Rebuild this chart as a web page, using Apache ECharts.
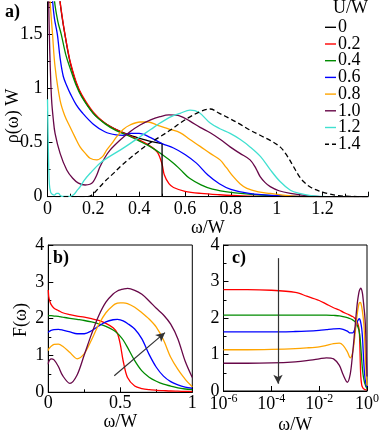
<!DOCTYPE html>
<html>
<head>
<meta charset="utf-8">
<script src="https://cdn.jsdelivr.net/npm/echarts@6/dist/echarts.min.js"></script>
<style>
  html, body { margin: 0; padding: 0; background: #fff; }
  #main { width: 382px; height: 435px; }
</style>
</head>
<body>
<div id="main"></div>
<script>
// U/W values and colours (xmgrace palette)
const uLabels = ["0", "0.2", "0.4", "0.6", "0.8", "1.0", "1.2", "1.4"];
const uColors = ["#000000", "#ff0000", "#008b00", "#0000ff", "#ffa500", "#670748", "#40e0d0", "#000000"];

// panel a) : rho(w) W vs w/W, pairs [w/W, rho]
const rhoU00 = [[0.045,2.1],[0.054,1.82],[0.065,1.64],[0.076,1.5],[0.09,1.33],[0.1,1.23],[0.125,1.05],[0.15,0.93],[0.2,0.77],[0.25,0.68],[0.3,0.62],[0.35,0.575],[0.4,0.54],[0.45,0.51],[0.5,0.49]];
const rhoU00Edge = [[0.5,0.49],[0.5,0],[1.4,0]];
const rhoU02 = [[0.045,2.1],[0.054,1.82],[0.065,1.65],[0.076,1.5],[0.09,1.34],[0.1,1.24],[0.125,1.06],[0.15,0.94],[0.2,0.78],[0.25,0.68],[0.3,0.62],[0.35,0.57],[0.4,0.525],[0.45,0.465],[0.48,0.41],[0.5,0.3],[0.51,0.2],[0.53,0.12],[0.55,0.085],[0.6,0.05],[0.67,0.03],[0.75,0.018],[0.85,0.008],[1.0,0.003],[1.2,0],[1.4,0]];
const rhoU04 = [[0.025,2.1],[0.03,1.82],[0.045,1.62],[0.06,1.5],[0.08,1.31],[0.1,1.18],[0.125,1.03],[0.15,0.92],[0.2,0.77],[0.25,0.675],[0.3,0.61],[0.35,0.565],[0.4,0.515],[0.45,0.46],[0.5,0.39],[0.55,0.31],[0.58,0.25],[0.62,0.17],[0.67,0.11],[0.72,0.07],[0.8,0.04],[0.9,0.02],[1.0,0.008],[1.2,0],[1.4,0]];
const rhoU06 = [[0.018,2.1],[0.022,1.82],[0.03,1.65],[0.043,1.5],[0.055,1.28],[0.069,1.11],[0.085,1.02],[0.1,0.95],[0.125,0.85],[0.15,0.78],[0.2,0.67],[0.25,0.6],[0.3,0.57],[0.33,0.566],[0.36,0.585],[0.4,0.585],[0.45,0.545],[0.5,0.49],[0.55,0.45],[0.6,0.39],[0.65,0.31],[0.7,0.2],[0.75,0.12],[0.8,0.068],[0.88,0.03],[1.0,0.01],[1.2,0],[1.4,0]];
const rhoU08 = [[0.008,2.1],[0.011,1.82],[0.022,1.5],[0.033,1.2],[0.055,0.89],[0.075,0.75],[0.098,0.646],[0.12,0.55],[0.142,0.46],[0.165,0.4],[0.186,0.355],[0.215,0.34],[0.24,0.37],[0.258,0.43],[0.28,0.49],[0.302,0.554],[0.33,0.62],[0.36,0.662],[0.404,0.69],[0.44,0.69],[0.477,0.662],[0.53,0.625],[0.58,0.59],[0.62,0.53],[0.666,0.465],[0.71,0.4],[0.753,0.34],[0.78,0.27],[0.811,0.185],[0.84,0.12],[0.87,0.077],[0.92,0.045],[0.972,0.03],[1.05,0.01],[1.15,0],[1.4,0]];
const rhoU10 = [[0.003,2.1],[0.005,1.82],[0.008,1.5],[0.012,1.2],[0.018,0.89],[0.025,0.72],[0.033,0.585],[0.055,0.4],[0.084,0.246],[0.11,0.17],[0.135,0.125],[0.164,0.108],[0.185,0.115],[0.2,0.14],[0.215,0.2],[0.229,0.277],[0.25,0.36],[0.273,0.43],[0.317,0.523],[0.36,0.6],[0.404,0.662],[0.45,0.71],[0.491,0.739],[0.53,0.755],[0.579,0.745],[0.62,0.7],[0.666,0.64],[0.71,0.59],[0.753,0.53],[0.797,0.46],[0.84,0.4],[0.884,0.34],[0.91,0.26],[0.928,0.185],[0.95,0.13],[0.972,0.093],[1.01,0.055],[1.06,0.03],[1.12,0.012],[1.2,0],[1.4,0]];
const rhoU12 = [[0,0.9],[0.004,0.4],[0.008,0.12],[0.014,0.04],[0.022,0.02],[0.03,0.015],[0.04,0.03],[0.048,0.03],[0.056,0.01],[0.065,0.003],[0.1,0.003],[0.115,0.02],[0.13,0.06],[0.142,0.09],[0.16,0.15],[0.186,0.216],[0.229,0.31],[0.27,0.37],[0.317,0.43],[0.36,0.49],[0.404,0.554],[0.45,0.62],[0.491,0.68],[0.54,0.74],[0.579,0.77],[0.622,0.8],[0.66,0.78],[0.71,0.68],[0.75,0.63],[0.797,0.585],[0.84,0.53],[0.884,0.46],[0.93,0.37],[0.972,0.25],[1.015,0.14],[1.06,0.06],[1.1,0.03],[1.15,0.01],[1.22,0],[1.4,0]];
const rhoU14 = [[0,0],[0.17,0],[0.19,0.01],[0.215,0.06],[0.25,0.14],[0.29,0.22],[0.317,0.277],[0.36,0.355],[0.404,0.43],[0.45,0.5],[0.491,0.554],[0.54,0.62],[0.579,0.68],[0.62,0.735],[0.666,0.785],[0.71,0.81],[0.75,0.77],[0.797,0.72],[0.84,0.67],[0.884,0.615],[0.93,0.565],[0.972,0.52],[1.015,0.46],[1.045,0.38],[1.073,0.28],[1.095,0.2],[1.117,0.14],[1.15,0.085],[1.19,0.05],[1.23,0.025],[1.27,0.01],[1.32,0.003],[1.4,0]];

// panels b) and c) : F(w) for U/W = 0.2 .. 1.0 on the same w/W grid
const omegaF = [1e-6, 1e-5, 1e-4, 1e-3, 0.003, 0.01, 0.02, 0.04, 0.07, 0.1, 0.15, 0.2, 0.25, 0.3, 0.35, 0.4, 0.45, 0.48, 0.5, 0.52, 0.55, 0.6, 0.65, 0.7, 0.75, 0.8, 0.85, 0.9, 0.95, 1.0];
const fU02 = [2.78, 2.78, 2.76, 2.7, 2.6, 2.48, 2.38, 2.28, 2.22, 2.16, 2.11, 2.07, 2.04, 2.0, 1.95, 1.87, 1.75, 1.6, 1.3, 0.85, 0.4, 0.17, 0.1, 0.07, 0.055, 0.045, 0.035, 0.03, 0.025, 0.02];
const fU04 = [2.08, 2.08, 2.08, 2.08, 2.08, 2.08, 2.08, 2.07, 2.06, 2.04, 2.01, 1.98, 1.95, 1.91, 1.86, 1.79, 1.69, 1.6, 1.52, 1.42, 1.22, 0.86, 0.58, 0.41, 0.3, 0.22, 0.17, 0.12, 0.09, 0.07];
const fU06 = [1.62, 1.62, 1.62, 1.63, 1.64, 1.66, 1.68, 1.7, 1.71, 1.69, 1.64, 1.59, 1.59, 1.67, 1.8, 1.91, 1.97, 1.98, 1.97, 1.94, 1.87, 1.72, 1.45, 1.03, 0.68, 0.44, 0.29, 0.2, 0.14, 0.11];
const fU08 = [1.13, 1.13, 1.14, 1.16, 1.18, 1.21, 1.25, 1.3, 1.31, 1.25, 1.08, 0.91, 1.05, 1.42, 1.84, 2.16, 2.36, 2.42, 2.43, 2.43, 2.41, 2.31, 2.16, 1.99, 1.77, 1.42, 0.95, 0.62, 0.36, 0.15];
const fU10 = [0.76, 0.76, 0.77, 0.8, 0.83, 0.88, 0.91, 0.88, 0.7, 0.45, 0.24, 0.47, 1.02, 1.58, 2.08, 2.45, 2.67, 2.75, 2.78, 2.8, 2.82, 2.77, 2.66, 2.48, 2.28, 2.1, 1.85, 1.45, 0.85, 0.4];

// arrows (data coordinates of start and end)
const arrowB = [[0.458, 0.45], [0.81, 1.62]];
const arrowC = [[1.9e-4, 3.64], [1.9e-4, 0.2]];

const FONT = '"Liberation Serif", "DejaVu Serif", serif';
const FS = 18;
const chart = echarts.init(document.getElementById("main"), null, { renderer: "canvas" });

function pairs(xs, ys) {
  return xs.map(function (x, i) { return [x, ys[i]]; });
}

function lineSeries(name, data, color, axis, dashed, smooth) {
  return {
    name: name,
    type: "line",
    xAxisIndex: axis,
    yAxisIndex: axis,
    data: data,
    symbol: "none",
    smooth: smooth === undefined ? 0.35 : smooth,
    clip: true,
    lineStyle: { color: color, width: 1.3, type: dashed ? [5, 3] : "solid" },
    itemStyle: { color: color },
    animation: false,
    silent: true
  };
}

const rhoList = [rhoU00, rhoU02, rhoU04, rhoU06, rhoU08, rhoU10, rhoU12, rhoU14];
const fList = [fU02, fU04, fU06, fU08, fU10];

const series = [];
rhoList.forEach(function (d, i) {
  series.push(lineSeries(uLabels[i], d, uColors[i], 0, i === 7));
});
series.push(lineSeries("0", rhoU00Edge, uColors[0], 0, false, false));

fList.forEach(function (f, i) {
  const sb = lineSeries("b" + uLabels[i + 1], pairs(omegaF, f), uColors[i + 1], 1, false, 0.3);
  const sc = lineSeries("c" + uLabels[i + 1], pairs(omegaF, f), uColors[i + 1], 2, false, 0.3);
  series.push(sb, sc);
});

function arrowSeries(axis, ends) {
  return {
    type: "line",
    name: "arrow" + axis,
    xAxisIndex: axis,
    yAxisIndex: axis,
    data: [],
    silent: true,
    animation: false,
    markLine: {
      silent: true,
      animation: false,
      symbol: ["none", "arrow"],
      symbolSize: [7, 9],
      label: { show: false },
      lineStyle: { color: "#333", width: 1.2, type: "solid" },
      data: [[{ coord: ends[0] }, { coord: ends[1] }]]
    }
  };
}
series.push(arrowSeries(1, arrowB), arrowSeries(2, arrowC));

const labelStyle = { fontFamily: FONT, fontSize: FS, color: "#000" };
const axisLine = { show: true, onZero: false, lineStyle: { color: "#000", width: 1 } };
const tick = { show: true, inside: true, length: 5, lineStyle: { color: "#000" } };
const minor = { show: true, splitNumber: 2, length: 3, lineStyle: { color: "#000" } };

// legend drawn as short line samples + labels (column at the top right of panel a)
const legendGraphic = [];
uLabels.forEach(function (n, i) {
  const y = 27.3 + i * 16.7;
  legendGraphic.push({
    type: "line", silent: true,
    shape: { x1: 325, y1: y, x2: 336, y2: y },
    style: { stroke: uColors[i], lineWidth: 1.4, lineDash: i === 7 ? [4, 3] : null }
  });
  legendGraphic.push({
    type: "text", silent: true, x: 338, y: y,
    style: { text: n, font: FS + "px " + FONT, fill: "#000", textVerticalAlign: "middle" }
  });
});

const option = {
  backgroundColor: "#fff",
  animation: false,
  grid: [
    { left: 47.5, right: 13.7, top: 1.8, bottom: 238.3 },
    { left: 48.3, right: 189.7, top: 245, bottom: 42.7, show: true, borderColor: "#000", borderWidth: 1 },
    { left: 223.5, right: 13, top: 245, bottom: 42.7, show: true, borderColor: "#000", borderWidth: 1 }
  ],
  xAxis: [
    {
      gridIndex: 0, type: "value", min: 0, max: 1.4, interval: 0.2,
      axisLine: axisLine, axisTick: tick, minorTick: minor, splitLine: { show: false },
      axisLabel: Object.assign({ margin: 4, showMaxLabel: false }, labelStyle),
      name: "ω/W", nameLocation: "middle", nameGap: 18, nameTextStyle: labelStyle
    },
    {
      gridIndex: 1, type: "value", min: 0, max: 1, interval: 0.5,
      axisLine: axisLine, axisTick: tick, minorTick: minor, splitLine: { show: false },
      axisLabel: Object.assign({ margin: 2 }, labelStyle),
      name: "ω/W", nameLocation: "middle", nameGap: 20, nameTextStyle: labelStyle
    },
    {
      gridIndex: 2, type: "log", logBase: 100, min: 1e-6, max: 1,
      axisLine: axisLine, axisTick: tick, splitLine: { show: false },
      axisLabel: {
        margin: 2,
        formatter: function (v) {
          const e = Math.round(Math.log10(v));
          return "{b|10}{s|" + e + "}";
        },
        rich: {
          b: { fontFamily: FONT, fontSize: FS, color: "#000", lineHeight: 22 },
          s: { fontFamily: FONT, fontSize: 12, color: "#000", verticalAlign: "top", lineHeight: 13 }
        }
      },
      name: "ω/W", nameLocation: "middle", nameGap: 25, nameTextStyle: labelStyle
    }
  ],
  yAxis: [
    {
      gridIndex: 0, type: "value", min: 0, max: 1.8, interval: 0.5,
      axisLine: axisLine, axisTick: tick, minorTick: minor, splitLine: { show: false },
      axisLabel: Object.assign({ margin: 5, showMaxLabel: false }, labelStyle)
    },
    {
      gridIndex: 1, type: "value", min: 0, max: 4, interval: 1,
      axisLine: axisLine, axisTick: tick, minorTick: minor, splitLine: { show: false },
      axisLabel: Object.assign({ margin: 4 }, labelStyle)
    },
    {
      gridIndex: 2, type: "value", min: 0, max: 4, interval: 1,
      axisLine: axisLine, axisTick: tick, minorTick: minor, splitLine: { show: false },
      axisLabel: Object.assign({ margin: 4 }, labelStyle)
    }
  ],
  graphic: [
    { type: "text", left: 5, top: 3, style: { text: "a)", font: "bold " + FS + "px " + FONT, fill: "#000" } },
    { type: "text", left: 53, top: 249, style: { text: "b)", font: "bold " + FS + "px " + FONT, fill: "#000" } },
    { type: "text", left: 232, top: 249, style: { text: "c)", font: "bold " + FS + "px " + FONT, fill: "#000" } },
    { type: "text", left: 333, top: -1, style: { text: "U/W", font: FS + "px " + FONT, fill: "#000" } },
    { type: "text", x: 13, y: 116, rotation: Math.PI / 2, style: { text: "ρ(ω) W", font: FS + "px " + FONT, fill: "#000", textAlign: "center", textVerticalAlign: "middle" } },
    { type: "text", x: 21, y: 320, rotation: Math.PI / 2, style: { text: "F(ω)", font: FS + "px " + FONT, fill: "#000", textAlign: "center", textVerticalAlign: "middle" } }
  ].concat(legendGraphic),
  series: series
};

chart.setOption(option);
</script>
</body>
</html>
